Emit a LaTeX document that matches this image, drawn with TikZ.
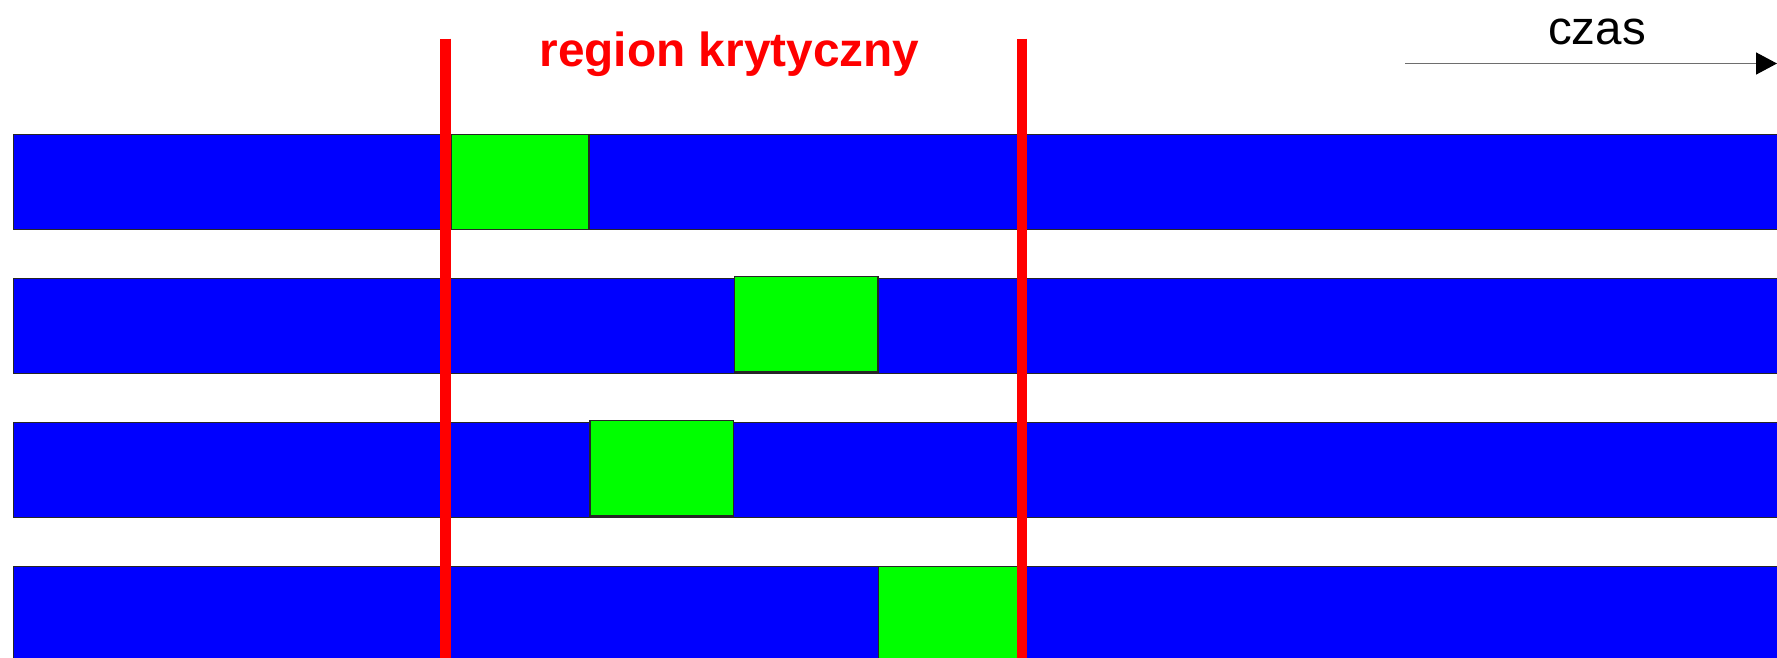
\documentclass[tikz,border=0pt]{standalone}
\usepackage{fontspec}
\setmainfont{Liberation Sans}
\usetikzlibrary{arrows.meta}
\definecolor{barblue}{RGB}{0,0,255}
\definecolor{boxgreen}{RGB}{0,255,0}
\definecolor{critred}{RGB}{255,0,0}
\definecolor{arrowgray}{RGB}{110,110,110}
\tikzset{
  bar/.style={fill=barblue,draw=black!85,line width=1.2pt},
  crit/.style={fill=boxgreen,draw=black!85,line width=1.2pt},
  redline/.style={draw=critred,line width=10.5pt},
  timearrow/.style={draw=arrowgray,line width=1.5pt,-{Triangle[length=21pt,width=22pt,fill=black,color=black]}},
}
\begin{document}
\begin{tikzpicture}[x=1pt,y=-1pt]
\useasboundingbox (0,0) rectangle (1777,657);
\clip (0,0) rectangle (1777,657);
% process bars
\draw[bar] (13.5,134.5) rectangle (1790,229.5);
\draw[bar] (13.5,278.5) rectangle (1790,373.5);
\draw[bar] (13.5,422.5) rectangle (1790,517.5);
\draw[bar] (13.5,566.5) rectangle (1790,680);
% critical section boxes
\draw[crit] (451,134.5) rectangle (589,229.5);
\draw[crit] (734.5,276.5) rectangle (878,372);
\draw[crit] (590,420.5) rectangle (733.5,516);
\draw[crit] (878.5,566.5) rectangle (1020,680);
% red boundaries
\coordinate (l1) at (445.5,38.5);
\coordinate (l2) at (445.5,670);
\coordinate (r1) at (1022,38.5);
\coordinate (r2) at (1022,670);
\draw[redline] (l1) -- (l2);
\draw[redline] (r1) -- (r2);
% title
\node[anchor=base,text=critred,font=\bfseries\fontsize{47.8}{50}\selectfont,inner sep=0pt] (title) at (729.5,66.5) {region krytyczny};
% time arrow
\coordinate (ta) at (1405,63.5);
\coordinate (tb) at (1777,63.5);
\draw[timearrow] (ta) -- (tb);
\node[anchor=base,font=\fontsize{47.5}{50}\selectfont,inner sep=0pt] (czas) at (1597,44) {czas};
\end{tikzpicture}
\end{document}
